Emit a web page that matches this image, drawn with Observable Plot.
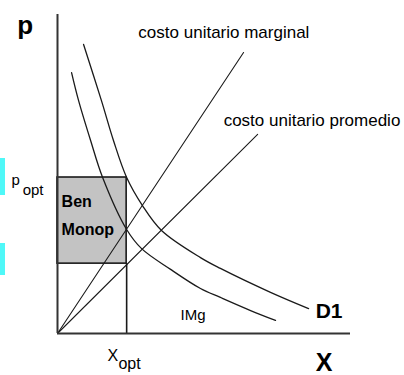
<!DOCTYPE html>
<html>
<head>
<meta charset="utf-8">
<script src="https://cdn.jsdelivr.net/npm/d3@7"></script>
<script src="https://cdn.jsdelivr.net/npm/@observablehq/plot@0.6"></script>
<style>
  html, body { margin: 0; padding: 0; background: #fff; }
  #wrap { position: relative; width: 404px; height: 375px; overflow: hidden; }
  .tab { position: absolute; left: 0; width: 5px; background: #4ff8f8; }
  svg { font-family: "Liberation Sans", Arial, sans-serif; }
</style>
</head>
<body>
<div id="wrap">
  <div class="tab" style="top:158px;height:37px"></div>
  <div class="tab" style="top:243px;height:32px"></div>
</div>
<script>
// Demand curve D1 (x, p)
const demandX = [0.89, 1.50, 1.91, 2.36, 2.90, 3.55, 4.88, 5.56, 7.27, 8.57];
const demandP = [9.06, 7.30, 6.05, 4.89, 4.01, 3.23, 2.38, 2.04, 1.29, 0.78];
// Marginal revenue IMg
const imgX = [0.48, 0.72, 1.13, 1.54, 2.36, 2.87, 3.86, 4.88, 5.56, 6.59, 7.44];
const imgP = [8.18, 7.30, 6.05, 4.89, 3.26, 2.66, 2.01, 1.41, 1.13, 0.72, 0.41];
// Cost lines (from origin)
const marginalX = [0, 6.35];
const marginalP = [0, 8.81];
const averageX = [0, 6.83];
const averageP = [0, 6.24];
// Optimum
const xOpt = 2.36;
const pOpt = 4.89;
const costOpt = 2.19;
// Labels
const labelText = ["p", "costo unitario marginal", "costo unitario promedio", "IMg", "D1", "X"];
const labelX = [-1.37, 2.76, 5.67, 4.20, 8.81, 8.81];
const labelY = [9.40, 9.25, 6.52, 0.41, 0.50, -1.17];
const labelSize = [26, 17, 17, 15, 21, 25];
const labelWeight = ["bold", "normal", "normal", "normal", "bold", "bold"];
const boxText = ["Ben", "Monop"];
const boxX = [0.14, 0.14];
const boxY = [3.95, 3.10];

const toRows = (xs, ys) => xs.map((x, i) => ({x, y: ys[i]}));
const demand = toRows(demandX, demandP);
const img = toRows(imgX, imgP);
const marginal = toRows(marginalX, marginalP);
const average = toRows(averageX, averageP);
const labels = labelText.map((t, i) => ({t, x: labelX[i], y: labelY[i], s: labelSize[i], w: labelWeight[i]}));
const box = boxText.map((t, i) => ({t, x: boxX[i], y: boxY[i]}));

const ink = "#1a1a1a";
const marks = [
  Plot.rect([{x1: 0, x2: xOpt, y1: costOpt, y2: pOpt}], {x1: "x1", x2: "x2", y1: "y1", y2: "y2", fill: "#c3c3c3", stroke: ink, strokeWidth: 1.6}),
  Plot.ruleX([xOpt], {y1: 0, y2: costOpt, stroke: ink, strokeWidth: 1.6}),
  Plot.line(marginal, {x: "x", y: "y", stroke: ink, strokeWidth: 1.1}),
  Plot.line(average, {x: "x", y: "y", stroke: ink, strokeWidth: 1.1}),
  Plot.line(demand, {x: "x", y: "y", curve: "catmull-rom", stroke: ink, strokeWidth: 1.3}),
  Plot.line(img, {x: "x", y: "y", curve: "catmull-rom", stroke: ink, strokeWidth: 1.3}),
  Plot.ruleX([0], {y1: 0, y2: 10, stroke: "#333", strokeWidth: 2}),
  Plot.ruleY([0], {x1: 0, x2: 10, stroke: "#333", strokeWidth: 2}),
  Plot.text(box, {x: "x", y: "y", text: "t", textAnchor: "start", lineAnchor: "bottom", fontSize: 16, fontWeight: "bold", fill: "#000"}),
  // p_opt tick label
  Plot.text(["p"], {x: -1.57, y: 4.67, text: d => d, textAnchor: "start", lineAnchor: "bottom", fontSize: 15, fill: "#000"}),
  Plot.text(["opt"], {x: -1.19, y: 4.33, text: d => d, textAnchor: "start", lineAnchor: "bottom", fontSize: 15, fill: "#000"}),
  // X_opt tick label
  Plot.text(["X"], {x: 1.71, y: -0.85, text: d => d, textAnchor: "start", lineAnchor: "bottom", fontSize: 16, fill: "#000"}),
  Plot.text(["opt"], {x: 2.08, y: -1.10, text: d => d, textAnchor: "start", lineAnchor: "bottom", fontSize: 16, fill: "#000"})
];
for (const l of labels) {
  marks.push(Plot.text([l], {x: "x", y: "y", text: "t", textAnchor: "start", lineAnchor: "bottom", fontSize: l.s, fontWeight: l.w, fill: "#000"}));
}

const chart = Plot.plot({
  width: 404,
  height: 375,
  marginLeft: 57,
  marginRight: 54,
  marginTop: 14,
  marginBottom: 42,
  x: {domain: [0, 10], axis: null},
  y: {domain: [0, 10], axis: null},
  style: {fontFamily: "'Liberation Sans', Arial, sans-serif", background: "#fff", overflow: "visible"},
  marks
});
document.getElementById("wrap").prepend(chart);
</script>
</body>
</html>
